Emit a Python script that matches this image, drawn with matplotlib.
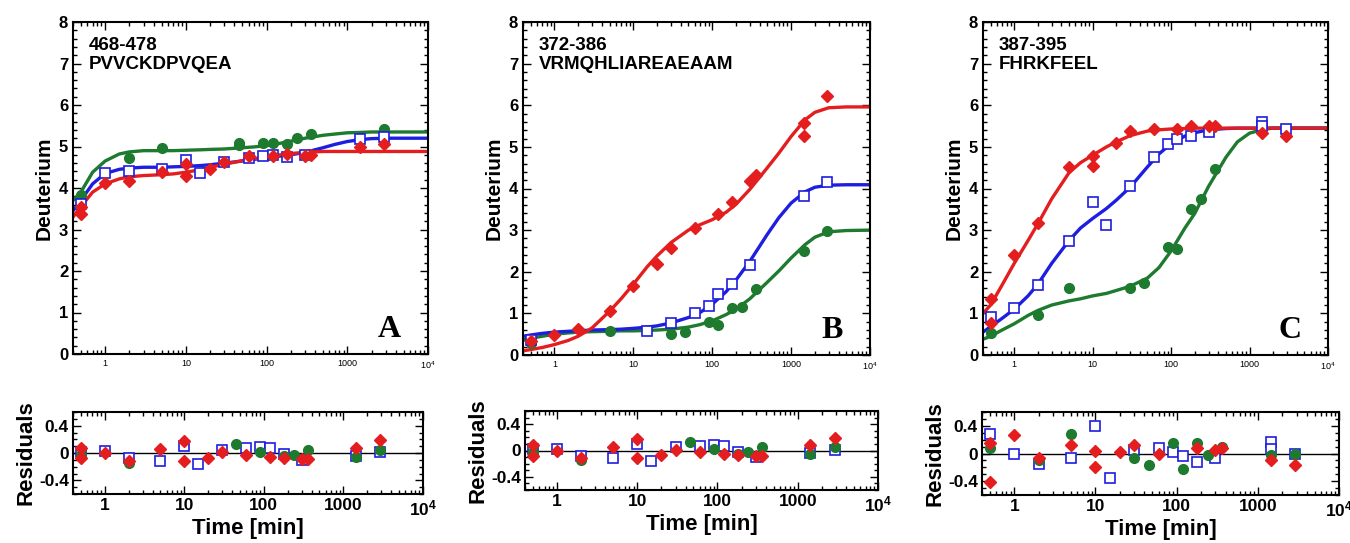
import numpy as np
import matplotlib
matplotlib.use('Agg')
import matplotlib.pyplot as plt
from matplotlib.ticker import FixedLocator, MultipleLocator, LogLocator, NullFormatter

plt.rcParams['font.family'] = ['Liberation Sans', 'DejaVu Sans']
plt.rcParams['mathtext.fontset'] = 'custom'
plt.rcParams['mathtext.rm'] = 'Liberation Sans'
plt.rcParams['mathtext.bf'] = 'Liberation Sans:bold'

RED = '#e41e1e'
BLUE = '#1e1ee0'
GREEN = '#1d7a2e'

# sampling times (min) of the fitted curves
CURVE_T = [0.4, 0.5, 0.7, 1, 1.5, 2, 3, 5, 7, 10, 15, 20, 30, 50, 70, 100,
           150, 200, 300, 500, 700, 1000, 1500, 2000, 3000, 5000, 10000]

# ---- panel A : 468-478 ----
A_RED_T = [0.5, 0.5, 1, 2, 5, 10, 10, 20, 30, 60, 120, 180, 300, 360, 1440, 2880]
A_RED_D = [3.38, 3.55, 4.12, 4.16, 4.38, 4.28, 4.57, 4.46, 4.62, 4.76, 4.78, 4.82, 4.78, 4.8, 4.98, 5.06]
A_BLUE_T = [0.5, 1, 2, 5, 10, 15, 30, 60, 90, 120, 180, 300, 1440, 2880]
A_BLUE_D = [3.62, 4.36, 4.42, 4.45, 4.68, 4.36, 4.62, 4.72, 4.77, 4.8, 4.74, 4.8, 5.18, 5.22]
A_GREEN_T = [0.5, 2, 5, 45, 45, 90, 120, 180, 240, 360, 2880]
A_GREEN_D = [3.82, 4.72, 4.96, 5.09, 5.04, 5.08, 5.08, 5.05, 5.2, 5.3, 5.43]
A_RED_FIT = [3.3, 3.55, 3.9, 4.1, 4.22, 4.27, 4.3, 4.32, 4.34, 4.38, 4.44, 4.5, 4.57, 4.66,
             4.71, 4.75, 4.8, 4.83, 4.86, 4.88, 4.88, 4.88, 4.88, 4.88, 4.88, 4.88, 4.88]
A_BLUE_FIT = [3.45, 3.7, 4.1, 4.35, 4.45, 4.48, 4.5, 4.5, 4.51, 4.52, 4.54, 4.56, 4.6, 4.65,
              4.69, 4.73, 4.77, 4.8, 4.86, 4.97, 5.05, 5.12, 5.17, 5.19, 5.2, 5.2, 5.2]
A_GREEN_FIT = [3.7, 3.9, 4.38, 4.65, 4.82, 4.87, 4.9, 4.9, 4.9, 4.91, 4.92, 4.93, 4.94, 4.97,
               4.99, 5.02, 5.08, 5.13, 5.2, 5.27, 5.3, 5.33, 5.34, 5.35, 5.35, 5.35, 5.35]

# ---- panel B : 372-386 ----
B_RED_T = [0.5, 1, 2, 5, 10, 20, 30, 60, 120, 180, 300, 360, 1440, 1440, 2880]
B_RED_D = [0.33, 0.48, 0.62, 1.05, 1.66, 2.18, 2.57, 3.05, 3.38, 3.68, 4.18, 4.33, 5.57, 5.25, 6.22]
B_BLUE_T = [0.5, 15, 30, 60, 90, 120, 180, 300, 1440, 2880]
B_BLUE_D = [0.37, 0.57, 0.76, 1.02, 1.18, 1.46, 1.7, 2.17, 3.83, 4.16]
B_GREEN_T = [0.5, 5, 30, 45, 90, 120, 180, 240, 360, 1440, 2880]
B_GREEN_D = [0.28, 0.57, 0.5, 0.56, 0.8, 0.73, 1.12, 1.15, 1.58, 2.5, 2.97]
B_RED_FIT = [0.1, 0.13, 0.18, 0.25, 0.35, 0.45, 0.65, 1.05, 1.35, 1.7, 2.12, 2.38, 2.7, 3.0,
             3.13, 3.25, 3.43, 3.62, 3.98, 4.5, 4.85, 5.25, 5.65, 5.83, 5.94, 5.96, 5.96]
B_BLUE_FIT = [0.45, 0.48, 0.52, 0.55, 0.57, 0.58, 0.6, 0.61, 0.62, 0.64, 0.67, 0.7, 0.77, 0.9,
              1.02, 1.22, 1.52, 1.8, 2.25, 2.9, 3.3, 3.65, 3.92, 4.03, 4.08, 4.09, 4.09]
B_GREEN_FIT = [0.35, 0.4, 0.45, 0.5, 0.53, 0.55, 0.56, 0.57, 0.58, 0.58, 0.59, 0.6, 0.62, 0.67,
               0.73, 0.82, 0.97, 1.1, 1.35, 1.75, 2.02, 2.33, 2.65, 2.83, 2.96, 2.99, 3.0]

# ---- panel C : 387-395 ----
C_RED_T = [0.5, 0.5, 1, 2, 5, 10, 10, 20, 30, 60, 120, 180, 300, 360, 1440, 2880]
C_RED_D = [1.35, 0.77, 2.4, 3.17, 4.51, 4.79, 4.55, 5.09, 5.39, 5.43, 5.43, 5.51, 5.5, 5.5, 5.33, 5.26]
C_BLUE_T = [0.5, 1, 2, 5, 10, 15, 30, 60, 90, 120, 180, 300, 1440, 1440, 2880]
C_BLUE_D = [0.92, 1.14, 1.69, 2.75, 3.68, 3.12, 4.06, 4.76, 5.06, 5.19, 5.27, 5.36, 5.6, 5.5, 5.42]
C_GREEN_T = [0.5, 2, 5, 30, 45, 90, 120, 180, 240, 360]
C_GREEN_D = [0.52, 0.95, 1.6, 1.62, 1.72, 2.6, 2.55, 3.51, 3.75, 4.46]
C_RED_FIT = [1.0, 1.2, 1.68, 2.2, 2.75, 3.15, 3.75, 4.38, 4.62, 4.8, 5.0, 5.12, 5.27, 5.38,
             5.41, 5.43, 5.44, 5.45, 5.45, 5.45, 5.45, 5.45, 5.45, 5.45, 5.45, 5.45, 5.45]
C_BLUE_FIT = [0.55, 0.68, 0.88, 1.1, 1.42, 1.7, 2.2, 2.75, 3.05, 3.28, 3.52, 3.72, 4.03, 4.52,
              4.83, 5.08, 5.26, 5.34, 5.41, 5.44, 5.45, 5.45, 5.45, 5.45, 5.45, 5.45, 5.45]
C_GREEN_FIT = [0.38, 0.45, 0.6, 0.75, 0.95, 1.07, 1.2, 1.3, 1.35, 1.42, 1.48, 1.55, 1.65, 1.85,
               2.1, 2.5, 3.05, 3.4, 4.05, 4.75, 5.12, 5.33, 5.42, 5.45, 5.45, 5.45, 5.45]

# ---- residuals (A and B panels show the same residual set) ----
RAB_RED_T = [0.5, 0.5, 1, 2, 5, 10, 10, 20, 30, 60, 120, 180, 300, 360, 1440, 2880]
RAB_RED_R = [0.08, -0.08, 0.0, -0.12, 0.06, 0.18, -0.12, -0.07, 0.01, -0.03, -0.06, -0.07, -0.09, -0.09, 0.08, 0.19]
RAB_BLUE_T = [0.5, 1, 2, 5, 10, 15, 30, 60, 90, 120, 180, 300, 1440, 2880]
RAB_BLUE_R = [0.02, 0.03, -0.08, -0.11, 0.1, -0.16, 0.05, 0.07, 0.09, 0.07, -0.02, -0.1, -0.04, 0.01]
RAB_GREEN_T = [0.5, 2, 45, 90, 180, 240, 360, 1440, 2880]
RAB_GREEN_R = [-0.03, -0.15, 0.13, 0.02, -0.05, -0.03, 0.05, -0.06, 0.05]

RC_RED_T = [0.5, 0.5, 1, 2, 5, 10, 10, 20, 30, 60, 180, 300, 360, 1440, 2880]
RC_RED_R = [0.15, -0.41, 0.27, -0.07, 0.12, 0.04, -0.2, 0.02, 0.12, 0.0, 0.08, 0.05, 0.08, -0.1, -0.16]
RC_BLUE_T = [0.5, 1, 2, 5, 10, 15, 30, 60, 90, 120, 180, 300, 1440, 1440, 2880]
RC_BLUE_R = [0.28, 0.0, -0.15, -0.07, 0.4, -0.36, 0.05, 0.08, 0.02, -0.03, -0.12, -0.07, 0.17, 0.07, -0.01]
RC_GREEN_T = [0.5, 2, 5, 30, 45, 90, 120, 180, 240, 360, 1440, 2880]
RC_GREEN_R = [0.08, -0.1, 0.28, -0.07, -0.17, 0.15, -0.22, 0.15, -0.02, 0.1, -0.02, 0.0]

X_TICKS = [1, 10, 100, 1000, 10000]
X_LABELS_TOP = ['1', '10', '100', '1000', r'$10^4$']
X_LABELS_RES = ['1', '10', '100', '1000', r'$\mathbf{10^4}$']

W, H = 1350, 543
fig = plt.figure(figsize=(W / 100, H / 100), dpi=100)


def px_axes(l, t, r, b):
    return fig.add_axes([l / W, 1 - b / H, (r - l) / W, (b - t) / H])


def style_axes(ax):
    ax.set_xscale('log')
    ax.set_xlim(0.4, 1e4)
    ax.xaxis.set_major_locator(FixedLocator(X_TICKS))
    ax.xaxis.set_minor_locator(LogLocator(base=10, subs=np.arange(2, 10), numticks=20))
    ax.xaxis.set_minor_formatter(NullFormatter())
    ax.tick_params(which='both', direction='in', top=True, right=True, width=1.0)
    ax.tick_params(which='major', length=6)
    ax.tick_params(which='minor', length=3)
    for s in ax.spines.values():
        s.set_linewidth(1.5)


def draw_top(ax, fits, points, title, seq, letter):
    style_axes(ax)
    ax.set_ylim(0, 8)
    ax.yaxis.set_major_locator(MultipleLocator(1))
    ax.yaxis.set_minor_locator(MultipleLocator(0.2))
    ax.set_xticklabels(X_LABELS_TOP, fontsize=6.5)
    ax.tick_params(axis='y', labelsize=12)
    for lab in ax.get_yticklabels():
        lab.set_fontweight('bold')
    for vals, col in fits:
        ax.plot(CURVE_T, vals, color=col, lw=2.4, zorder=2)
    gt, gd = points[0]
    bt, bd = points[1]
    rt, rd = points[2]
    ax.plot(gt, gd, 'o', color=GREEN, ms=7, zorder=3)
    ax.plot(bt, bd, 's', mfc='white', mec=BLUE, mew=1.2, ms=7, zorder=4)
    ax.plot(rt, rd, 'D', color=RED, ms=6.5, zorder=5)
    ax.set_ylabel('Deuterium', fontsize=15, fontweight='bold', labelpad=4)
    ax.text(0.045, 0.955, title + '\n' + seq, transform=ax.transAxes, fontsize=13.5,
            fontweight='bold', va='top', ha='left', linespacing=1.15)
    ax.text(0.89, 0.075, letter, transform=ax.transAxes, fontsize=23, fontweight='bold',
            family='Liberation Serif', ha='center', va='center')


def draw_res(ax, points):
    style_axes(ax)
    ax.set_ylim(-0.6, 0.6)
    ax.yaxis.set_major_locator(FixedLocator([-0.4, 0, 0.4]))
    ax.yaxis.set_minor_locator(MultipleLocator(0.1))
    ax.set_yticklabels(['-0.4', '0', '0.4'])
    ax.set_xticklabels(X_LABELS_RES)
    ax.tick_params(axis='both', which='major', labelsize=12.5, pad=3)
    for lab in ax.get_yticklabels() + ax.get_xticklabels():
        lab.set_fontweight('bold')
    ax.axhline(0, color='black', lw=1.0, zorder=1)
    bt, br = points[0]
    gt, gr = points[1]
    rt, rr = points[2]
    ax.plot(bt, br, 's', mfc='white', mec=BLUE, mew=1.2, ms=7, zorder=3)
    ax.plot(gt, gr, 'o', color=GREEN, ms=7, zorder=4)
    ax.plot(rt, rr, 'D', color=RED, ms=6.5, zorder=5)
    ax.set_ylabel('Residuals', fontsize=16, fontweight='bold', labelpad=2)
    ax.set_xlabel('Time [min]', fontsize=16, fontweight='bold', labelpad=0)


axA = px_axes(73, 22, 428, 354)
axB = px_axes(523, 22, 870, 355)
axC = px_axes(983, 22, 1328, 355)

draw_top(axA, [(A_GREEN_FIT, GREEN), (A_BLUE_FIT, BLUE), (A_RED_FIT, RED)],
         [(A_GREEN_T, A_GREEN_D), (A_BLUE_T, A_BLUE_D), (A_RED_T, A_RED_D)],
         '468-478', 'PVVCKDPVQEA', 'A')
draw_top(axB, [(B_GREEN_FIT, GREEN), (B_BLUE_FIT, BLUE), (B_RED_FIT, RED)],
         [(B_GREEN_T, B_GREEN_D), (B_BLUE_T, B_BLUE_D), (B_RED_T, B_RED_D)],
         '372-386', 'VRMQHLIAREAEAAM', 'B')
draw_top(axC, [(C_GREEN_FIT, GREEN), (C_BLUE_FIT, BLUE), (C_RED_FIT, RED)],
         [(C_GREEN_T, C_GREEN_D), (C_BLUE_T, C_BLUE_D), (C_RED_T, C_RED_D)],
         '387-395', 'FHRKFEEL', 'C')

rA = px_axes(73, 412, 423, 494)
rB = px_axes(525, 411, 878, 490)
rC = px_axes(982, 412, 1339, 495)
res_ab = [(RAB_BLUE_T, RAB_BLUE_R), (RAB_GREEN_T, RAB_GREEN_R), (RAB_RED_T, RAB_RED_R)]
draw_res(rA, res_ab)
draw_res(rB, res_ab)
draw_res(rC, [(RC_BLUE_T, RC_BLUE_R), (RC_GREEN_T, RC_GREEN_R), (RC_RED_T, RC_RED_R)])

fig.savefig('out.png', dpi=100)
